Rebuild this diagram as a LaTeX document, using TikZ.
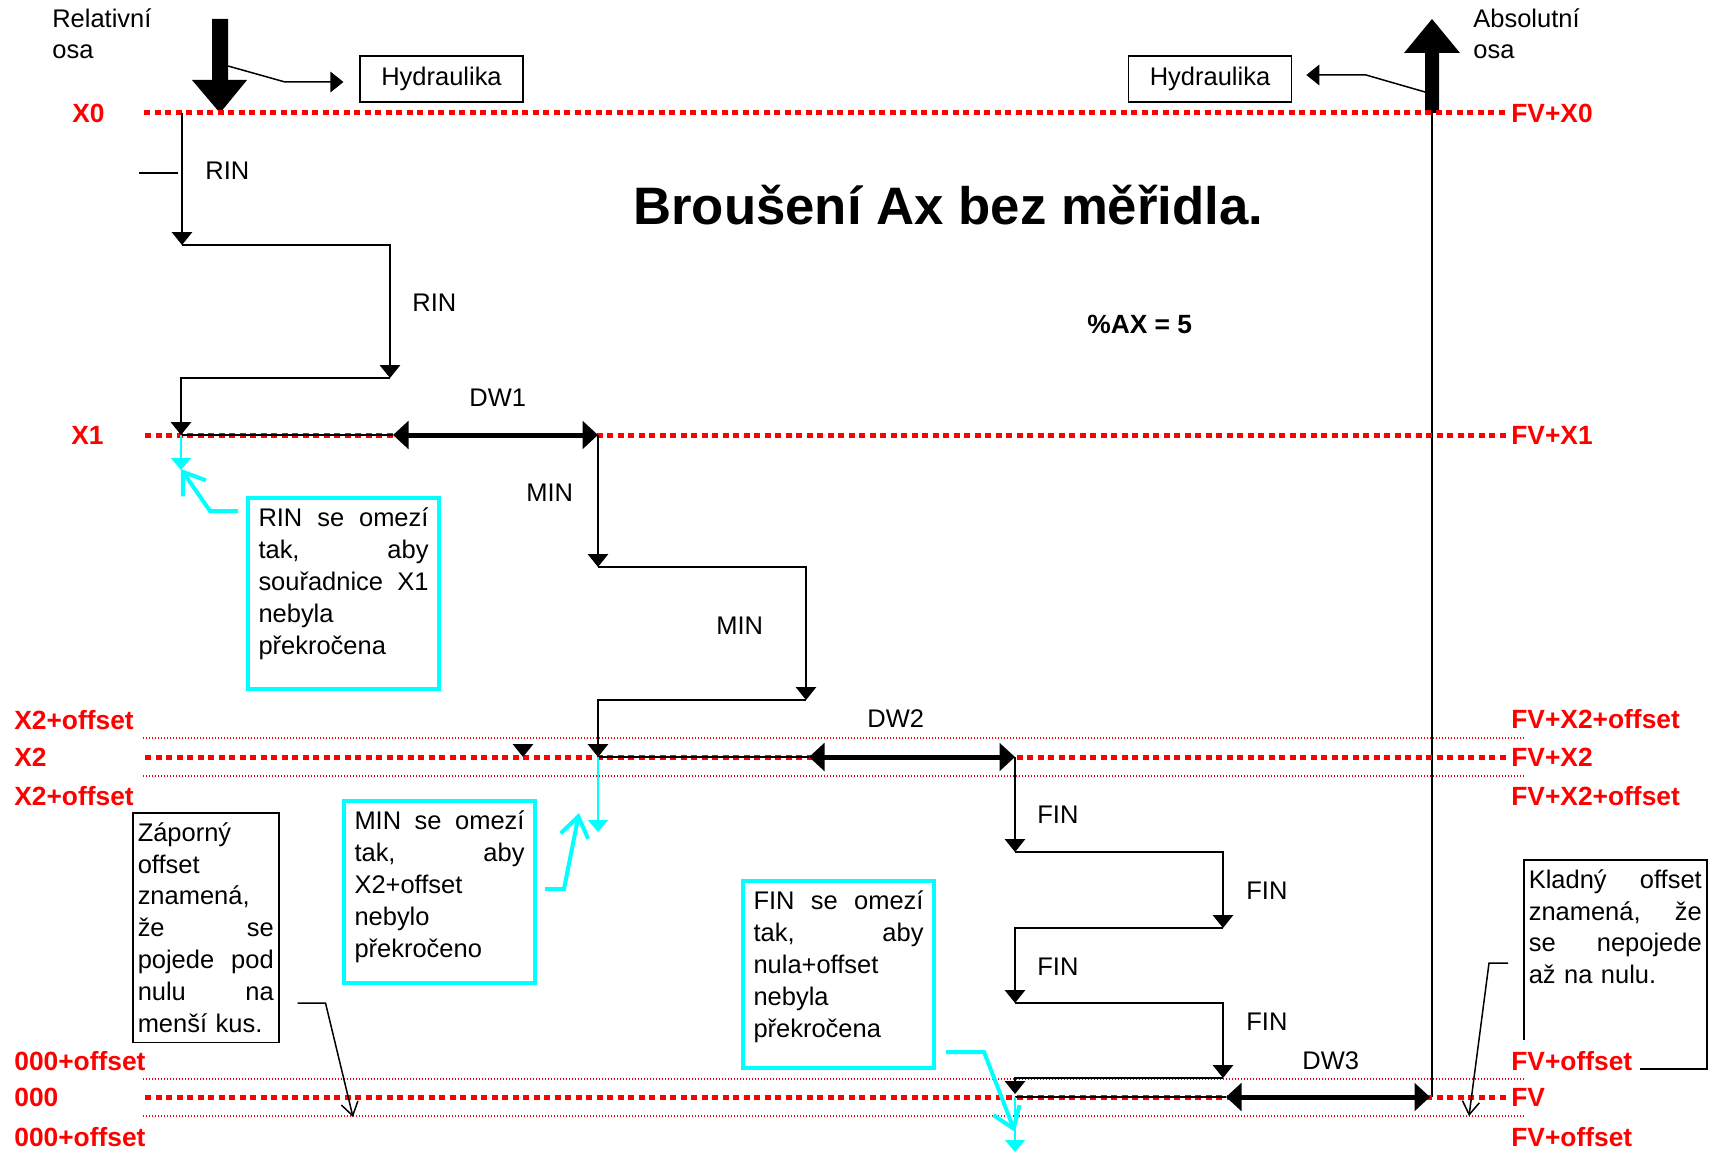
\documentclass[tikz,border=0pt]{standalone}
\usepackage{fontspec}
\setmainfont{Liberation Sans}
\usepackage{tikz}
\usetikzlibrary{arrows.meta}

\definecolor{aqua}{RGB}{0,255,255}
\definecolor{lvlred}{RGB}{255,0,0}
\newcommand{\jl}[1]{\hbox to\linewidth{#1}\par}
\newcommand{\bstrut}[1]{\rule[-#1]{0pt}{#1}}

\begin{document}
\begin{tikzpicture}[
    x=0.2mm, y=-0.2mm,
    every node/.style={font=\fontsize{14.5}{18.2}\selectfont, inner sep=0pt},
    lvl/.style={text=lvlred, font=\fontsize{15}{18}\selectfont\bfseries, anchor=west, inner xsep=1.6mm, inner ysep=2.2mm}, % level names
    hbox/.style={draw, line width=0.3mm, minimum width=32.6mm, minimum height=9.2mm},
    cbox/.style={draw=aqua, line width=0.8mm, anchor=north west, text width=34mm, inner xsep=2.1mm, inner ysep=2mm}, % limit notes
    nbox/.style={draw, line width=0.3mm, anchor=north west, inner xsep=1mm, inner ysep=1.9mm},
    mainlvl/.style={lvlred, line width=1mm, dash pattern=on 1.2mm off 0.9mm},
    offlvl/.style={lvlred, line width=0.25mm, dash pattern=on 0.25mm off 0.35mm},
    flow/.style={line width=0.3mm, -{Triangle[length=2.6mm,width=4.1mm]}},
    dwell/.style={line width=1mm, {Triangle[length=3.1mm,width=5.5mm]}-{Triangle[length=3.1mm,width=5.5mm]}},
    climit/.style={aqua, line width=0.3mm, -{Triangle[length=2.4mm,width=4mm]}},
    cnote/.style={aqua, line width=0.8mm, -{Straight Barb[length=4mm,width=5.6mm]}},
    bnote/.style={line width=0.3mm, -{Straight Barb[length=2.6mm,width=3.4mm]}}
    ]
    \useasboundingbox (0,0) rectangle (1713,1152);

    % axes
    \node[anchor=base west, align=left] (relname) at (52,59) {Relativní\\osa};
    \node[anchor=base west, align=left] (absname) at (1473,59) {Absolutní\\osa};
    \fill (212,19) -- (228,19) -- (228,80) -- (247,80) -- (220,113) -- (192,80) -- (212,80) -- cycle;
    \fill (1425,113) -- (1425,53) -- (1404,53) -- (1432,19) -- (1460,53) -- (1439,53) -- (1439,113) -- cycle;
    \coordinate (relshaft) at (228,66);
    \coordinate (absshaft) at (1425,92);
    \node[hbox] (hydL) at (441.5,79) {Hydraulika};
    \node[hbox] (hydR) at (1210,79) {Hydraulika};
    \draw[flow] (relshaft) -- (285,82) -- ([xshift=-9]hydL.west |- 0,82);
    \draw[flow] (absshaft) -- (1366,75) -- ([xshift=8]hydR.east |- 0,75);
    \draw[line width=0.3mm] (1432,113) -- (1432,1097);

    \node[anchor=base west, font=\fontsize{30}{36}\selectfont\bfseries] (title) at (633,224) {Broušení Ax bez měřidla.};
    \node[anchor=base west, font=\fontsize{15}{18}\selectfont\bfseries] (axval) at (1087,333) {\%AX = 5};

    % notes
    \node[cbox] (rinbox) at (246,496) {\jl{RIN\hfill se\hfill omezí}\jl{tak,\hfill aby}\jl{souřadnice\hfill X1}\jl{nebyla\hfill}\jl{překročena\hfill\bstrut{4.8mm}}};
    \node[cbox] (minbox) at (342,799) {\jl{MIN\hfill se\hfill omezí}\jl{tak,\hfill aby}\jl{X2+offset\hfill}\jl{nebylo\hfill}\jl{překročeno\hfill\bstrut{3mm}}};
    \node[cbox] (finbox) at (741,879) {\jl{FIN\hfill se\hfill omezí}\jl{tak,\hfill aby}\jl{nula+offset\hfill}\jl{nebyla\hfill}\jl{překročena\hfill\bstrut{4mm}}};
    \node[nbox, text width=27.2mm] (zapbox) at (132,812) {\jl{Záporný\hfill}\jl{offset\hfill}\jl{znamená,\hfill}\jl{že\hfill se}\jl{pojede\hfill pod}\jl{nulu\hfill na}\jl{menší kus.\hfill}};
    \node[nbox, text width=34.6mm] (kladbox) at (1523,859) {\jl{Kladný\hfill offset}\jl{znamená,\hfill že}\jl{se\hfill nepojede}\jl{až na nulu.\hfill\bstrut{15.1mm}}};

    % levels
    \node[lvl] (x0) at (64,113) {X0};
    \node[lvl] (x1) at (63,435) {X1};
    \node[lvl] (x2up) at (6,720) {X2+offset};
    \node[lvl] (x2) at (6,757) {X2};
    \node[lvl] (x2dn) at (6,796) {X2+offset};
    \node[lvl] (zup) at (6,1061) {000+offset};
    \node[lvl] (zero) at (6,1097) {000};
    \node[lvl] (zdn) at (6,1137) {000+offset};
    \node[lvl] (fvx0) at (1503,113) {FV+X0};
    \node[lvl] (fvx1) at (1503,435) {FV+X1};
    \node[lvl] (fvx2up) at (1503,719) {FV+X2+offset};
    \node[lvl] (fvx2) at (1503,757) {FV+X2};
    \node[lvl] (fvx2dn) at (1503,796) {FV+X2+offset};
    \node[lvl, fill=white] (fvup) at (1503,1061) {FV+offset};
    \node[lvl] (fv) at (1503,1097) {FV};
    \node[lvl] (fvdn) at (1503,1137) {FV+offset};

    \draw[mainlvl] (144,113) -- (1506,113);
    \draw[mainlvl] (145,435) -- (1506,435);
    \draw[mainlvl] (145,757) -- (1506,757);
    \draw[mainlvl] (145,1097) -- (1506,1097);
    \draw[offlvl] (143,738) -- (1524,738);
    \draw[offlvl] (143,776) -- (1524,776);
    \draw[offlvl] (143,1079) -- (1524,1079);
    \draw[offlvl] (143,1116) -- (1524,1116);

    % RIN
    \draw[line width=0.3mm] (139,173) -- (178,173);
    \draw[flow] (182,113) -- (182,245);
    \draw[flow] (182,245) -- (390,245) -- (390,378);
    \draw[flow] (390,378) -- (181,378) -- (181,435);
    \node[anchor=west] (rin1) at (205,171) {RIN};
    \node[anchor=west] (rin2) at (412,303) {RIN};
    \draw[line width=0.3mm] (181,435) -- (393,435);
    \draw[dwell] (393,435) -- (598,435);
    \node[anchor=west] (dw1) at (469,398) {DW1};

    % MIN
    \draw[flow] (598,435) -- (598,567);
    \draw[flow] (598,567) -- (806,567) -- (806,700);
    \draw[flow] (806,700) -- (598,700) -- (598,757);
    \draw[flow] (523,745) -- (523,757);
    \node[anchor=west] (min1) at (526,493) {MIN};
    \node[anchor=west] (min2) at (716,626) {MIN};
    \draw[line width=0.3mm] (598,757) -- (809,757);
    \draw[dwell] (809,757) -- (1015,757);
    \node[anchor=west] (dw2) at (867,719) {DW2};

    % FIN
    \draw[flow] (1015,757) -- (1015,852);
    \draw[flow] (1015,852) -- (1223,852) -- (1223,928);
    \draw[flow] (1223,928) -- (1015,928) -- (1015,1003);
    \draw[flow] (1015,1003) -- (1223,1003) -- (1223,1078);
    \draw[flow] (1223,1078) -- (1015,1078) -- (1015,1094);
    \node[anchor=west] (fin1) at (1037,815) {FIN};
    \node[anchor=west] (fin2) at (1246,891) {FIN};
    \node[anchor=west] (fin3) at (1037,967) {FIN};
    \node[anchor=west] (fin4) at (1246,1022) {FIN};
    \draw[line width=0.3mm] (1015,1097) -- (1226,1097);
    \draw[dwell] (1226,1097) -- (1430,1097);
    \node[anchor=west] (dw3) at (1302,1061) {DW3};

    % limits
    \coordinate (rinlim) at (181,470);
    \coordinate (minlim) at (598,832);
    \coordinate (finlim) at (1015,1152);
    \draw[climit] (181,435) -- (rinlim);
    \draw[climit] (598,757) -- (minlim);
    \draw[climit] (1015,1097) -- (finlim);
    \draw[cnote] ([shift={(-8,15)}]rinbox.north west) -- ++(-28,0) -- (181,469);
    \draw[cnote] ([shift={(8,90)}]minbox.north east) -- ++(19,0) -- (579,813);
    \draw[cnote] ([shift={(10,173)}]finbox.north east) -- ++(38,0) -- (1015,1132);
    \draw[bnote] ([shift={(18,191)}]zapbox.north east) -- ++(28,0) -- (353,1117);
    \draw[bnote] ([shift={(-15,104)}]kladbox.north west) -- ++(-19,0) -- (1469,1116);
\end{tikzpicture}
\end{document}
